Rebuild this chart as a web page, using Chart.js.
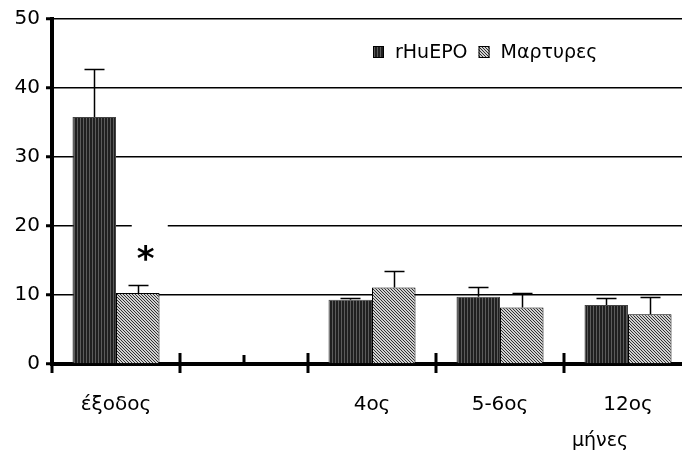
<!DOCTYPE html>
<html>
<head>
<meta charset="utf-8">
<script src="https://cdn.jsdelivr.net/npm/chart.js@4/dist/chart.umd.min.js"></script>
<style>
  html, body { margin: 0; padding: 0; background: #fff; overflow: hidden; }
  #wrap { width: 692px; height: 454px; position: relative; }
</style>
</head>
<body>
<div id="wrap"><canvas id="myChart"></canvas></div>
<script>
// data
const categories = ['έξοδος', '', '4ος', '5-6ος', '12ος'];
const seriesNames = ['rHuEPO', 'Μαρτυρες'];
const rhuepo = [35.8, null, 9.3, 9.75, 8.55];
const rhuepoErr = [7.0, null, 0.3, 1.35, 0.95];
const martyres = [10.3, null, 11.1, 8.2, 7.2];
const martyresErr = [1.1, null, 2.4, 2.1, 2.55];
const yTicks = [0, 10, 20, 30, 40, 50];
const axisTitle = 'μήνες';
const marker = '*';

const FONT = '"DejaVu Sans", sans-serif';

function makePattern(kind) {
    var c = document.createElement('canvas');
    var g = c.getContext('2d');
    c.width = 3; c.height = 3;
    if (kind == 'dark') {
        g.fillStyle = '#5c5c5c';
        g.fillRect(0, 0, 3, 3);
        g.fillStyle = '#202020';
        g.fillRect(0, 0, 2, 3);
    } else {
        g.fillStyle = '#d0d0d0';
        g.fillRect(0, 0, 3, 3);
        g.fillStyle = '#303030';
        for (var i = 0; i < 3; i++) g.fillRect(i, i, 1, 1);
    }
    return g.createPattern(c, 'repeat');
}
const darkFill = makePattern('dark');
const lightFill = makePattern('light');

// error bars, asterisk, x ticks, axis title, legend
const extras = {
    id: 'extras',
    beforeDatasetsDraw(chart) {
        var ctx = chart.ctx, y = chart.scales.y;
        var bar = chart.getDatasetMeta(1).data[0];
        // gap in the 20 grid line behind the asterisk box
        ctx.save();
        ctx.fillStyle = '#fff';
        ctx.fillRect(bar.x - 6, y.getPixelForValue(20) - 3, 36, 6);
        ctx.restore();
    },
    afterDatasetsDraw(chart) {
        var ctx = chart.ctx, x = chart.scales.x, y = chart.scales.y;
        var area = chart.chartArea;
        var errs = [rhuepoErr, martyresErr];
        ctx.save();
        ctx.strokeStyle = '#000';
        ctx.lineWidth = 1.5;
        [rhuepo, martyres].forEach(function(vals, d) {
            var meta = chart.getDatasetMeta(d);
            vals.forEach(function(v, i) {
                if (v == null) return;
                var bx = Math.round(meta.data[i].x) + 0.5;
                var y0 = y.getPixelForValue(v);
                var y1 = Math.round(y.getPixelForValue(v + errs[d][i])) + 0.5;
                ctx.beginPath();
                ctx.moveTo(bx, y0);
                ctx.lineTo(bx, y1);
                ctx.moveTo(bx - 10, y1);
                ctx.lineTo(bx + 10, y1);
                ctx.stroke();
            });
        });

        // x tick marks across the axis
        ctx.lineWidth = 3;
        var half = (x.getPixelForValue(1) - x.getPixelForValue(0)) / 2;
        for (var i = 0; i <= categories.length; i++) {
            var px = Math.round(x.getPixelForValue(i) - half);
            ctx.beginPath();
            ctx.moveTo(px, i == 0 ? area.bottom : area.bottom - 11);
            ctx.lineTo(px, area.bottom + 9);
            ctx.stroke();
        }
        var mid = Math.round(x.getPixelForValue(1));
        ctx.beginPath();
        ctx.moveTo(mid, area.bottom - 9);
        ctx.lineTo(mid, area.bottom);
        ctx.stroke();

        // asterisk over the control bar at discharge
        var bar = chart.getDatasetMeta(1).data[0];
        ctx.fillStyle = '#000';
        ctx.font = 'bold 34px ' + FONT;
        ctx.textAlign = 'center';
        ctx.textBaseline = 'alphabetic';
        ctx.fillText(marker, bar.x + 8, y.getPixelForValue(15.8) + 15);

        // axis title
        ctx.font = '19px ' + FONT;
        ctx.textBaseline = 'middle';
        ctx.fillText(axisTitle, x.getPixelForValue(4) - 28, 441);

        // legend inside the plot
        var lx = area.left + 321, ly = 52;
        var fills = [darkFill, lightFill];
        ctx.textAlign = 'left';
        ctx.font = '19px ' + FONT;
        seriesNames.forEach(function(name, d) {
            ctx.fillStyle = fills[d];
            ctx.fillRect(lx, ly - 6, 11, 12);
            ctx.strokeStyle = '#000';
            ctx.lineWidth = 1;
            ctx.strokeRect(lx + 0.5, ly - 5.5, 10, 11);
            ctx.fillStyle = '#000';
            ctx.fillText(name, lx + 22, ly + 1);
            lx += 22 + ctx.measureText(name).width + 11;
        });
        ctx.restore();
    }
};

var ctx = document.getElementById('myChart').getContext('2d');
var myChart = new Chart(ctx, {
    type: 'bar',
    data: {
        labels: categories,
        datasets: [{
            label: seriesNames[0],
            data: rhuepo,
            backgroundColor: darkFill,
            borderColor: '#444',
            borderWidth: 1,
            categoryPercentage: 0.68,
            barPercentage: 1.0
        }, {
            label: seriesNames[1],
            data: martyres,
            backgroundColor: lightFill,
            borderColor: '#000',
            borderWidth: 1,
            categoryPercentage: 0.68,
            barPercentage: 1.0
        }]
    },
    options: {
        responsive: true,
        maintainAspectRatio: false,
        animation: false,
        layout: { padding: { top: 19, right: 0, left: 0, bottom: 0 } },
        plugins: {
            legend: { display: false },
            tooltip: { enabled: false }
        },
        scales: {
            x: {
                grid: { display: false },
                border: { display: true, color: '#000', width: 4 },
                ticks: { color: '#000', font: { family: FONT, size: 20 }, padding: 21 },
                afterFit: function(scale) { scale.height = 90; }
            },
            y: {
                min: 0,
                max: 50,
                afterBuildTicks: function(scale) {
                    scale.ticks = yTicks.map(function(v) { return { value: v }; });
                },
                grid: { color: '#000', lineWidth: 1.5, tickLength: 6, tickColor: '#000', tickWidth: 3 },
                border: { display: true, color: '#000', width: 4 },
                ticks: { color: '#000', font: { family: FONT, size: 20 }, padding: 6 },
                afterFit: function(scale) { scale.width = 52; }
            }
        }
    },
    plugins: [extras]
});
</script>
</body>
</html>
